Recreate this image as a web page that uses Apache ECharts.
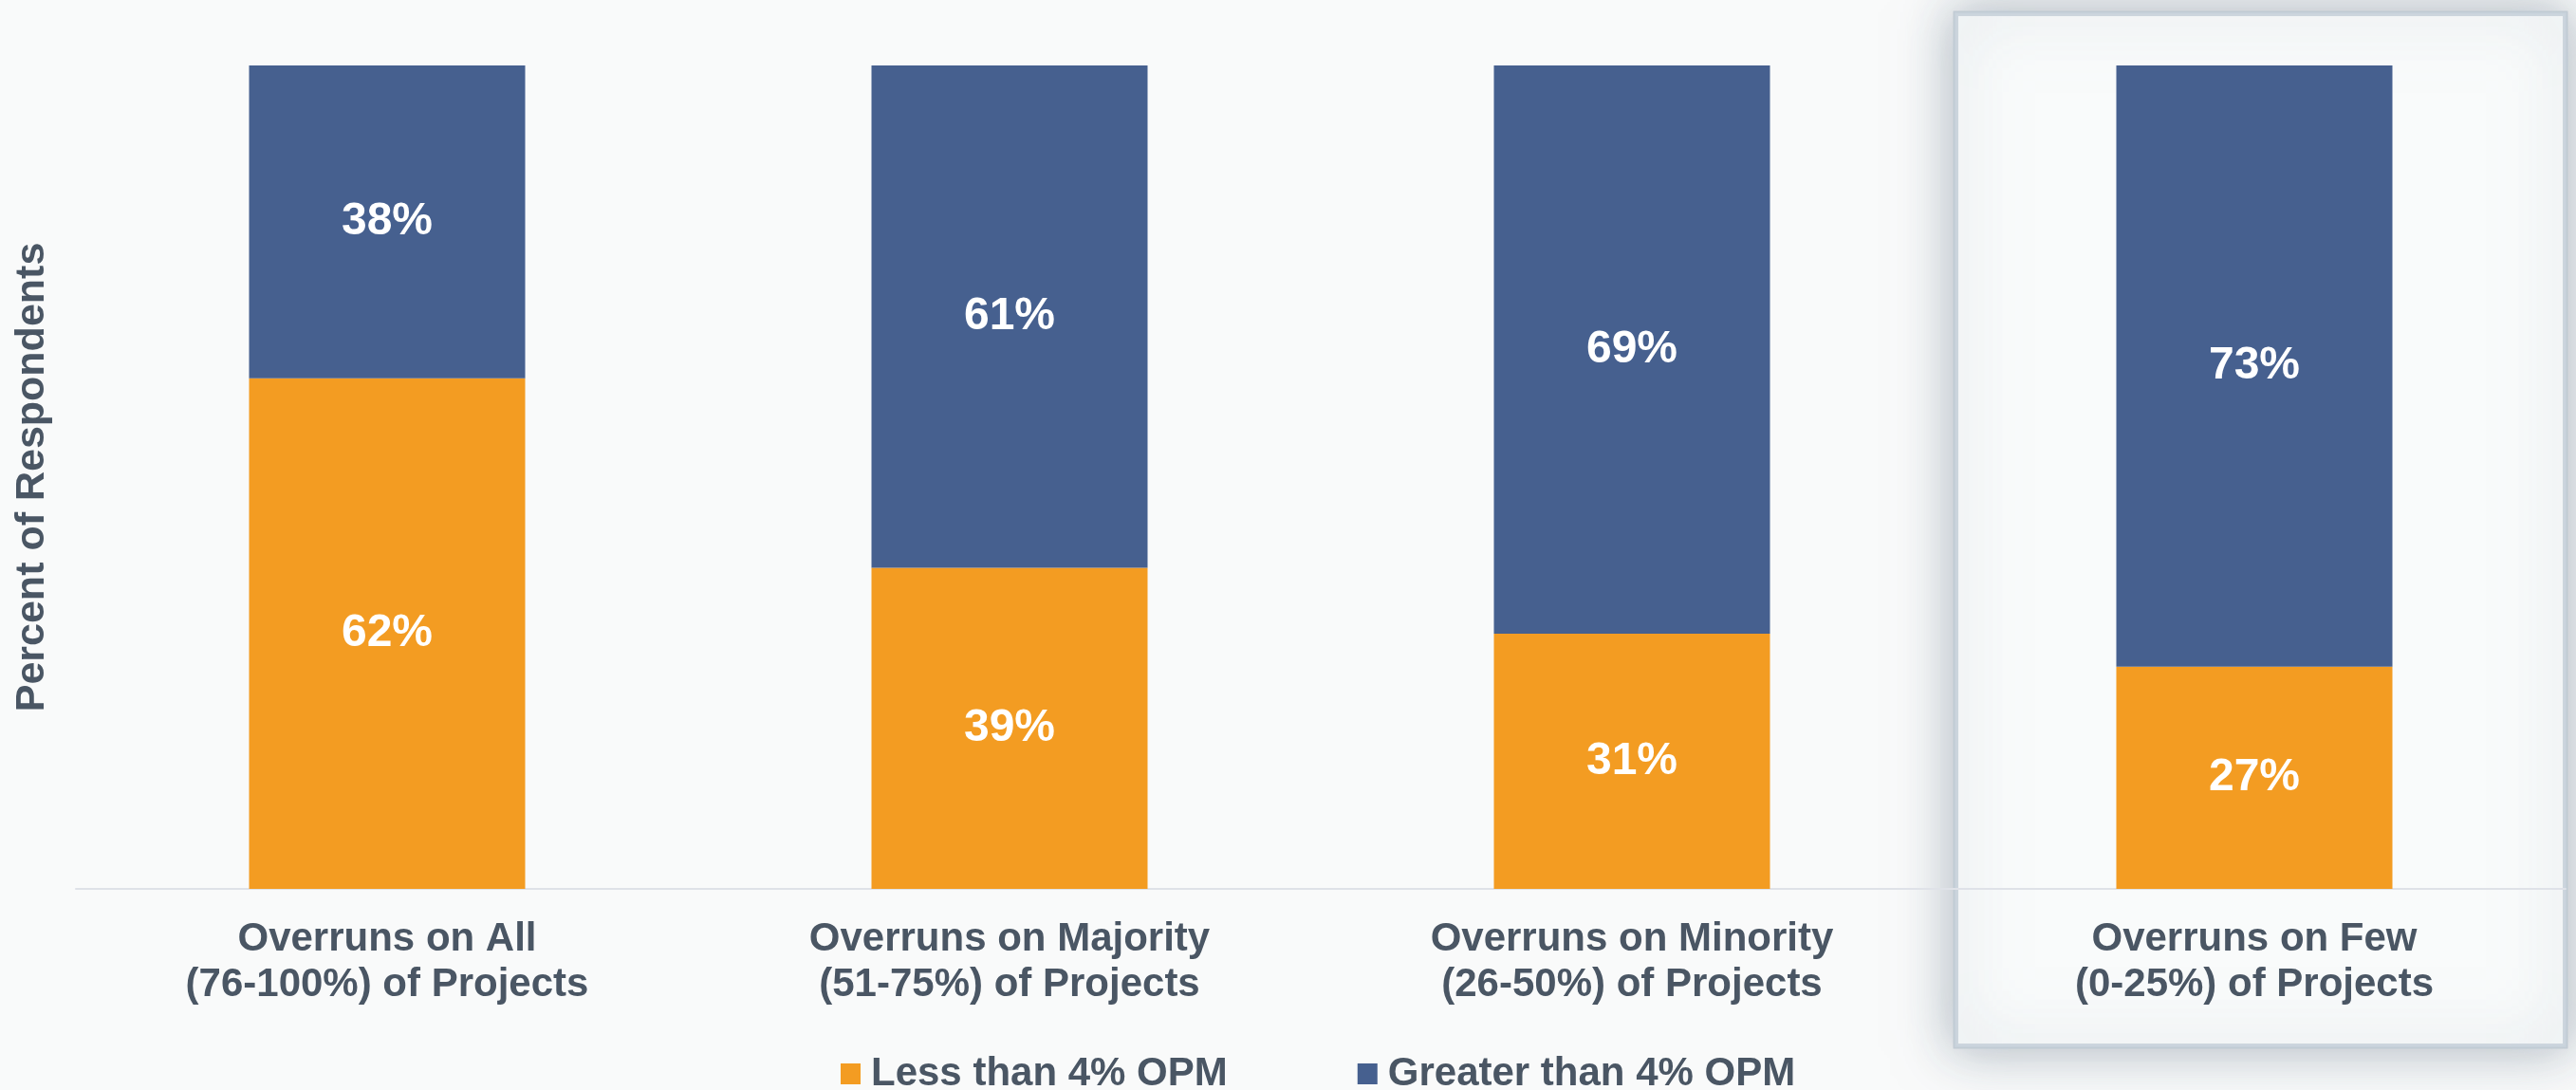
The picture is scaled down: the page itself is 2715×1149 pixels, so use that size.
<!DOCTYPE html>
<html>
<head>
<meta charset="utf-8">
<script src="https://cdn.jsdelivr.net/npm/echarts@6/dist/echarts.min.js"></script>
<style>
  html, body { margin: 0; padding: 0; background: #f9fafa; }
  #chart { width: 2715px; height: 1149px; }
</style>
</head>
<body>
<div id="chart"></div>
<script>
// chart data
const categories = [
  'Overruns on All\n(76-100%) of Projects',
  'Overruns on Majority\n(51-75%) of Projects',
  'Overruns on Minority\n(26-50%) of Projects',
  'Overruns on Few\n(0-25%) of Projects'
]
const lessThan4 = [62, 39, 31, 27]
const greaterThan4 = [38, 61, 69, 73]
const seriesNames = ['Less than 4% OPM', 'Greater than 4% OPM']

const textColor = '#4a5664'
const fontFamily = '"Liberation Sans", Arial, sans-serif'

const chart = echarts.init(document.getElementById('chart'))

const barLabel = {
  show: true,
  position: 'inside',
  color: '#ffffff',
  fontWeight: 'bold',
  fontSize: 48,
  fontFamily: fontFamily,
  formatter: '{c}%'
}

const option = {
  backgroundColor: '#f9fafa',
  animation: false,
  // highlight box around the last category
  graphic: [
    {
      type: 'rect',
      z: -10,
      shape: { x: 2060, y: 13, width: 645, height: 1091 },
      style: {
        fill: '#f9fbfb',
        stroke: '#c3cdd5',
        lineWidth: 3,
        shadowBlur: 50,
        shadowColor: 'rgba(90,110,130,0.45)'
      }
    },
    {
      type: 'rect',
      z: -9,
      shape: { x: 2062, y: 15, width: 641, height: 1087 },
      style: {
        fill: null,
        stroke: 'rgba(200,210,218,0.9)',
        lineWidth: 4,
        shadowBlur: 70,
        shadowColor: 'rgba(130,150,170,0.6)'
      }
    }
  ],
  grid: {
    left: 80,
    right: 11,
    top: 69,
    bottom: 212,
    outerBoundsMode: 'none'
  },
  legend: {
    top: 1105,
    left: 881,
    itemWidth: 21,
    itemHeight: 22,
    itemGap: 137,
    icon: 'rect',
    data: seriesNames,
    textStyle: {
      color: textColor,
      fontWeight: 'bold',
      fontSize: 42,
      lineHeight: 44,
      fontFamily: fontFamily,
      padding: [0, 0, 0, 6]
    }
  },
  xAxis: {
    type: 'category',
    data: categories,
    axisLine: { lineStyle: { color: '#dfe2e8', width: 2 } },
    axisTick: { show: false },
    axisLabel: {
      color: textColor,
      fontWeight: 'bold',
      fontSize: 42,
      lineHeight: 48,
      margin: 29,
      fontFamily: fontFamily,
      interval: 0
    }
  },
  yAxis: {
    type: 'value',
    min: 0,
    max: 100,
    name: 'Percent of Respondents',
    nameLocation: 'middle',
    nameGap: 24,
    nameTextStyle: {
      color: textColor,
      fontWeight: 'bold',
      fontSize: 43,
      fontFamily: fontFamily
    },
    axisLine: { show: false },
    axisTick: { show: false },
    axisLabel: { show: false },
    splitLine: { show: false }
  },
  series: [
    {
      name: seriesNames[0],
      type: 'bar',
      stack: 'total',
      barWidth: 291,
      data: lessThan4,
      itemStyle: { color: '#f39c22' },
      label: barLabel
    },
    {
      name: seriesNames[1],
      type: 'bar',
      stack: 'total',
      barWidth: 291,
      data: greaterThan4,
      itemStyle: { color: '#46608f' },
      label: barLabel
    }
  ]
}

chart.setOption(option)
</script>
</body>
</html>
